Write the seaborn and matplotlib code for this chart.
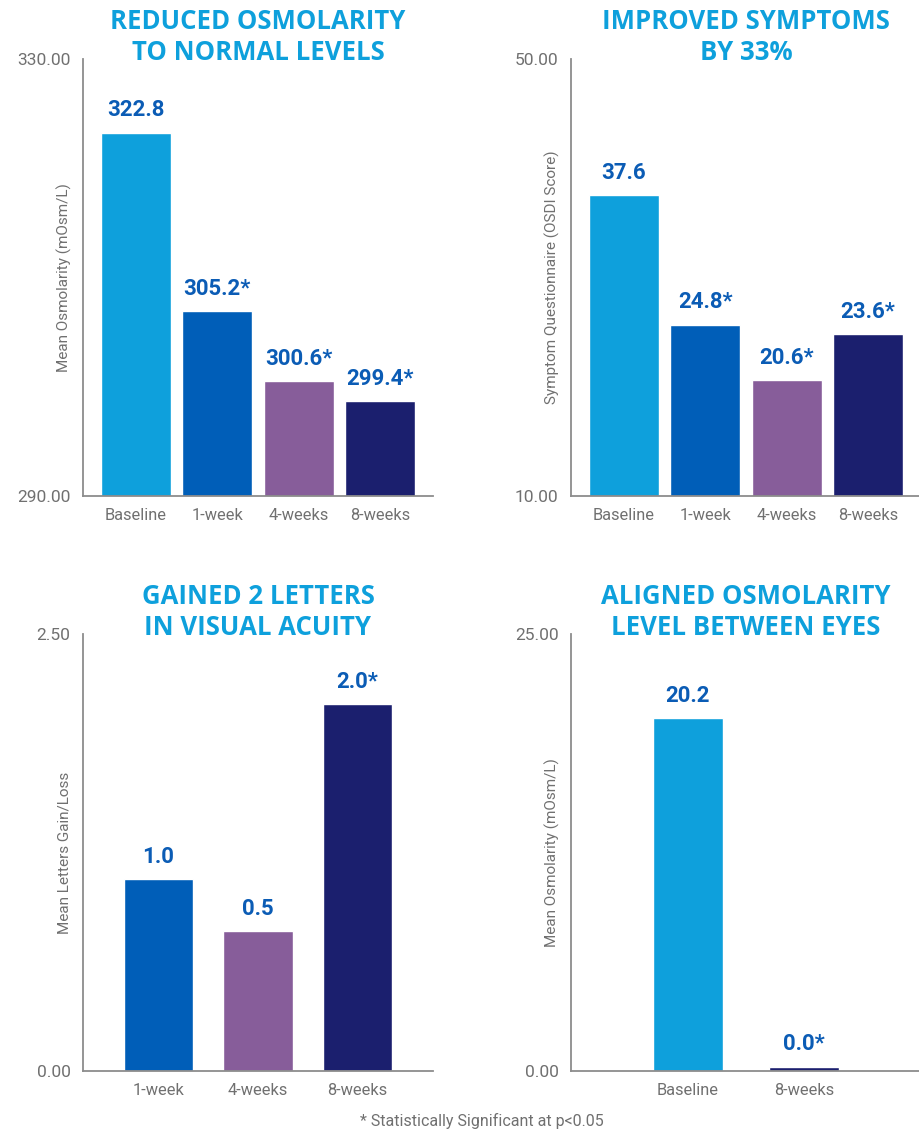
import numpy as np
import pandas as pd
import matplotlib
matplotlib.use('Agg')
import matplotlib.pyplot as plt
import seaborn as sns

# --- Data ---
# bar heights are read off the drawn bars; the printed labels are kept as shown
osm_cats = ['Baseline', '1-week', '4-weeks', '8-weeks']
osm_vals = [323.3, 306.9, 300.5, 298.7]
osm_labels = ['322.8', '305.2*', '300.6*', '299.4*']

osdi_cats = ['Baseline', '1-week', '4-weeks', '8-weeks']
osdi_vals = [37.6, 25.7, 20.6, 24.8]
osdi_labels = ['37.6', '24.8*', '20.6*', '23.6*']

va_cats = ['1-week', '4-weeks', '8-weeks']
va_vals = [1.10, 0.80, 2.10]
va_labels = ['1.0', '0.5', '2.0*']

eye_cats = ['Baseline', '8-weeks']
eye_vals = [20.2, 0.25]   # 8-weeks bar is a thin sliver in the source
eye_labels = ['20.2', '0.0*']

PALETTE = {'Baseline': '#0ea0dc', '1-week': '#005eb8',
           '4-weeks': '#875d9a', '8-weeks': '#1b1f6e'}
TITLE_COLOR = '#0ea0dc'
LABEL_COLOR = '#0b5cb5'
GRAY = '#707070'

sns.set_theme(style='white')
plt.rcParams['font.family'] = ['Roboto', 'DejaVu Sans']

fig = plt.figure(figsize=(9.19, 11.31), dpi=100)

W = 0.3808
H = 0.3860
panels = [
    dict(rect=[0.0903, 0.5615, W, H], cats=osm_cats, vals=osm_vals, labels=osm_labels,
         ylim=(290, 330), title='REDUCED OSMOLARITY\nTO NORMAL LEVELS',
         ylabel='Mean Osmolarity (mOsm/L)', width=0.86, xpad=0.65),
    dict(rect=[0.6213, 0.5615, W, H], cats=osdi_cats, vals=osdi_vals, labels=osdi_labels,
         ylim=(10, 50), title='IMPROVED SYMPTOMS\nBY 33%',
         ylabel='Symptom Questionnaire (OSDI Score)', width=0.86, xpad=0.65),
    dict(rect=[0.0903, 0.0531, W, H], cats=va_cats, vals=va_vals, labels=va_labels,
         ylim=(0, 2.5), title='GAINED 2 LETTERS\nIN VISUAL ACUITY',
         ylabel='Mean Letters Gain/Loss', width=0.70, xpad=0.76),
    dict(rect=[0.6213, 0.0531, W, H], cats=eye_cats, vals=eye_vals, labels=eye_labels,
         ylim=(0, 25), title='ALIGNED OSMOLARITY\nLEVEL BETWEEN EYES',
         ylabel='Mean Osmolarity (mOsm/L)', width=0.60, xpad=1.0),
]

for p in panels:
    ax = fig.add_axes(p['rect'])
    df = pd.DataFrame({'cat': p['cats'], 'val': p['vals']})
    sns.barplot(data=df, x='cat', y='val', hue='cat', palette=PALETTE,
                width=p['width'], legend=False, ax=ax, saturation=1)
    lo, hi = p['ylim']
    ax.set_ylim(lo, hi)
    n = len(p['cats'])
    ax.set_xlim(-p['xpad'], n - 1 + p['xpad'])
    ax.set_yticks([lo, hi])
    ax.set_yticklabels([f'{lo:.2f}', f'{hi:.2f}'])
    ax.tick_params(axis='y', length=0, pad=9, labelsize=12.5, labelcolor=GRAY)
    ax.tick_params(axis='x', length=0, pad=9, labelsize=11.8, labelcolor=GRAY)
    ax.set_xlabel('')
    ax.set_ylabel(p['ylabel'], fontsize=11, color=GRAY)
    ax.yaxis.set_label_coords(-0.032, 0.5)
    for side in ['top', 'right']:
        ax.spines[side].set_visible(False)
    for side in ['left', 'bottom']:
        ax.spines[side].set_color('#8c8c8c')
        ax.spines[side].set_linewidth(1.3)
    ax.set_title(p['title'], fontsize=18.5, fontweight='bold', color=TITLE_COLOR,
                 family=['Open Sans', 'DejaVu Sans'],
                 linespacing=1.2, pad=-5, y=1.0, va='bottom')
    for i, (v, lab) in enumerate(zip(p['vals'], p['labels'])):
        ax.annotate(lab, (i, v), xytext=(0, 8), textcoords='offset points',
                    ha='center', va='bottom', fontsize=16, fontweight='bold',
                    color=LABEL_COLOR)

fig.text(0.524, 0.0088, '* Statistically Significant at p<0.05', ha='center',
         va='center', fontsize=11.5, color=GRAY)

fig.savefig('out.png', dpi=100)
